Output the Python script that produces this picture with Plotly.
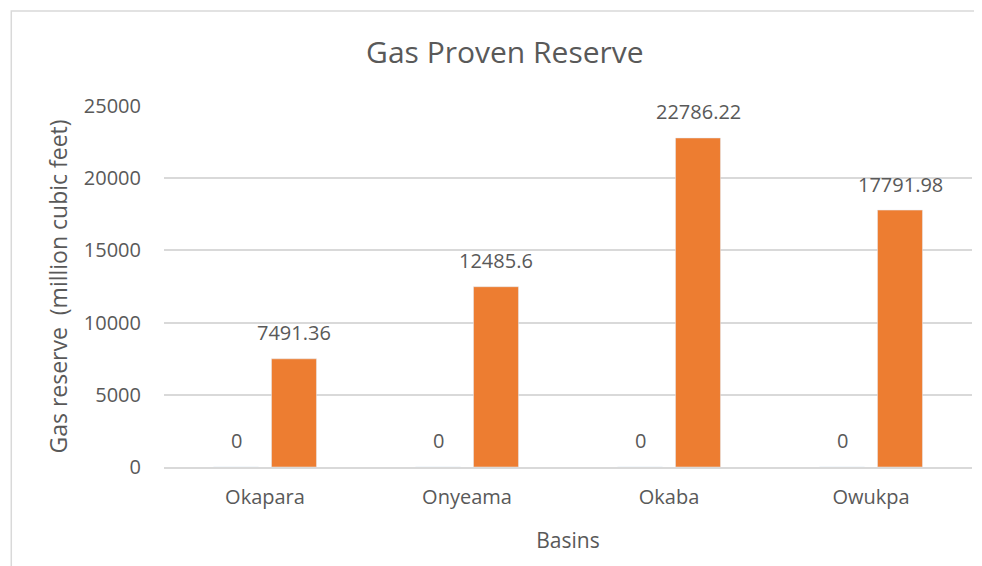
import plotly.graph_objects as go

basins = ["Okapara", "Onyeama", "Okaba", "Owukpa"]
series_a = [0, 0, 0, 0]
series_b = [7491.36, 12485.6, 22786.22, 17791.98]
labels_a = ["0", "0", "0", "0"]
labels_b = ["7491.36", "12485.6", "22786.22", "17791.98"]

FONT = "Open Sans"
GRAY = "#595959"

fig = go.Figure()
fig.add_trace(go.Bar(x=basins, y=series_a, marker_color="#4472C4", name="A"))
fig.add_trace(go.Bar(x=basins, y=series_b, marker_color="#ED7D31", name="B"))

ann = []
for b, v, t in zip(basins, series_a, labels_a):
    ann.append(dict(x=b, y=v, text=t, xref="x", yref="y", showarrow=False,
                    xshift=-29, yshift=27, font=dict(family=FONT, size=20, color=GRAY)))
for b, v, t in zip(basins, series_b, labels_b):
    ann.append(dict(x=b, y=v, text=t, xref="x", yref="y", showarrow=False,
                    xshift=29, yshift=26, font=dict(family=FONT, size=20, color=GRAY)))

fig.update_layout(
    width=982, height=566,
    margin=dict(l=156, r=18, t=98, b=107, autoexpand=False),
    paper_bgcolor="white", plot_bgcolor="white",
    showlegend=False,
    barmode="group", bargap=0.426, bargroupgap=0.224,
    title=dict(text="Gas Proven Reserve", x=0.506, xref="container", xanchor="center",
               y=0.922, yanchor="middle",
               font=dict(family=FONT, size=30, color=GRAY)),
    font=dict(family=FONT, color=GRAY),
    annotations=ann,
    shapes=[dict(type="rect", xref="paper", yref="paper", x0=-0.189, x1=1.2, y0=-0.6, y1=1.263,
                 line=dict(color="#d9d9d9", width=1.5))],
)
fig.update_xaxes(showline=True, linecolor="#d9d9d9", linewidth=1.5, ticks="", ticklabelstandoff=11,
                 tickfont=dict(family=FONT, size=20, color=GRAY),
                 title=dict(text="Basins", font=dict(family=FONT, size=21, color=GRAY), standoff=25))
fig.update_yaxes(range=[0, 25000], dtick=5000, tickformat="d", showgrid=True, gridcolor="#d9d9d9", gridwidth=1.5,
                 zeroline=False, showline=False, ticks="", ticklabelstandoff=22,
                 tickfont=dict(family=FONT, size=20, color=GRAY),
                 title=dict(text="Gas reserve  (million cubic feet)", font=dict(family=FONT, size=23, color=GRAY), standoff=9))

fig.write_html("out.html")
